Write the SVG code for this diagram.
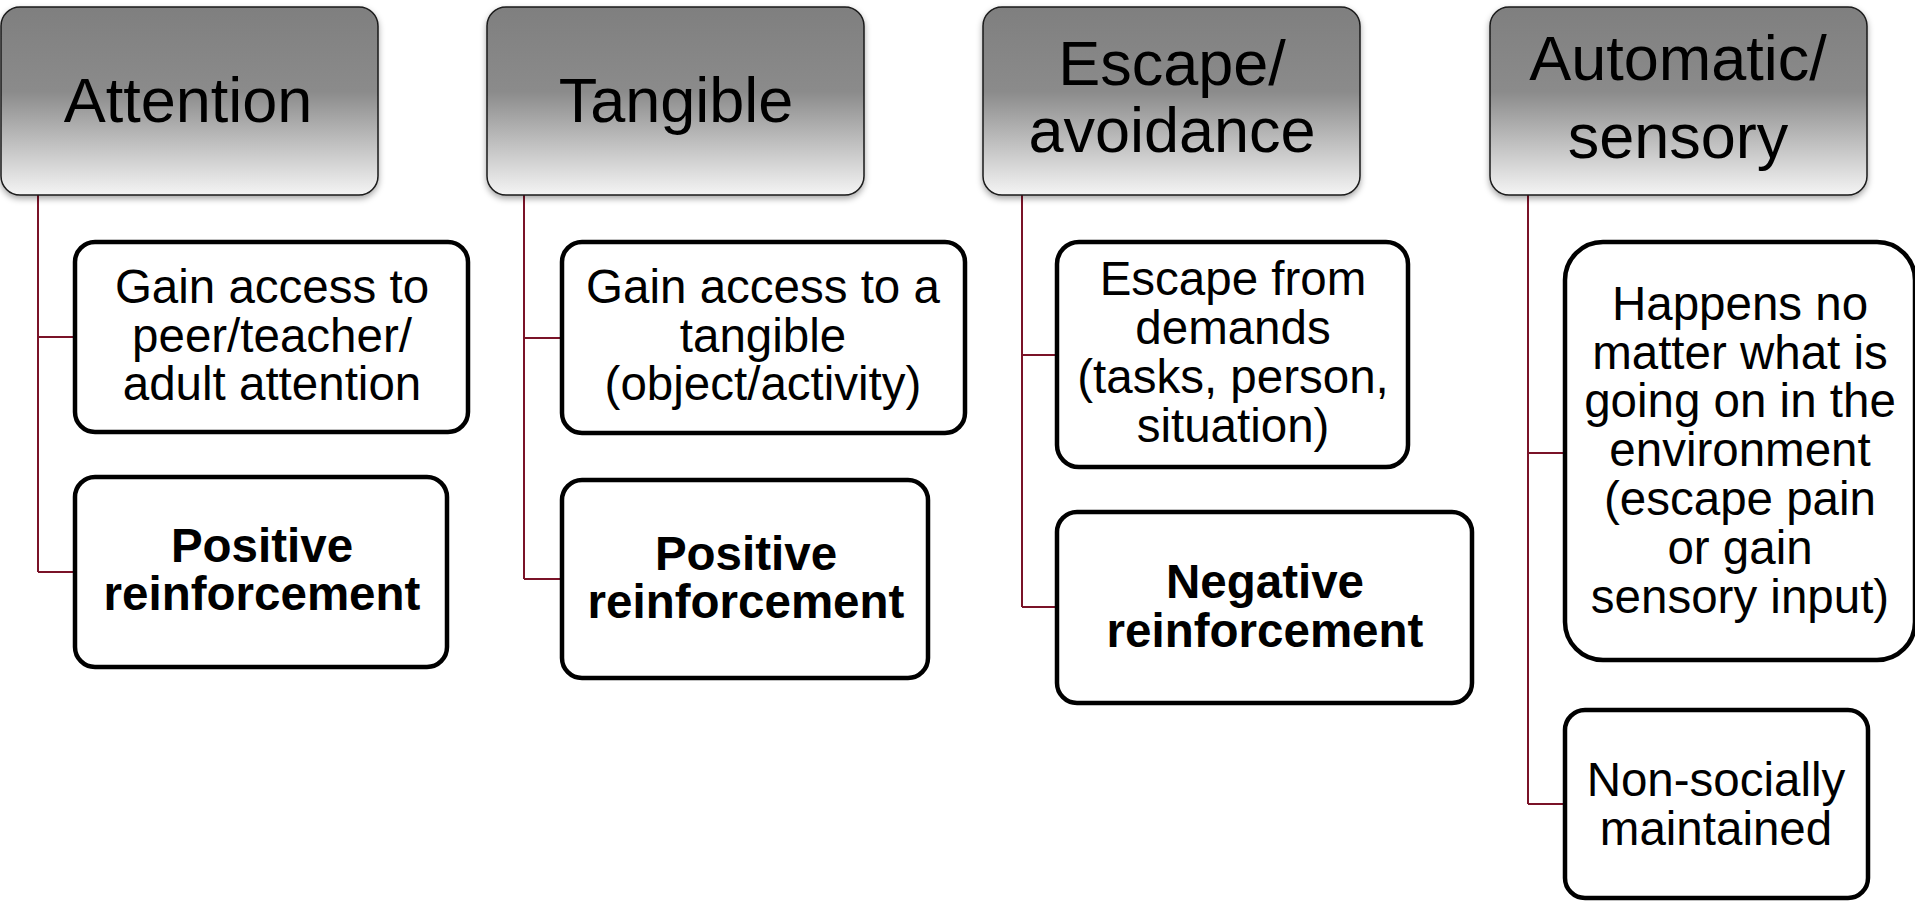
<svg xmlns="http://www.w3.org/2000/svg" width="1915" height="902" viewBox="0 0 1915 902">
<defs>
<linearGradient id="hg" x1="0" y1="0" x2="0" y2="1">
<stop offset="0" stop-color="#7f7f7f"/>
<stop offset="0.45" stop-color="#8b8b8b"/>
<stop offset="1" stop-color="#f4f4f4"/>
</linearGradient>
<filter id="sh" x="-10%" y="-10%" width="120%" height="130%">
<feDropShadow dx="0" dy="3" stdDeviation="3" flood-color="#000" flood-opacity="0.35"/>
</filter>
</defs>
<style>
.hdr{fill:url(#hg);stroke:#1a1a1a;stroke-width:1.5;filter:url(#sh)}
.box{fill:#fff;stroke:#000;stroke-width:4.5}
.ht{font-family:"Liberation Sans",Arial,sans-serif;font-size:63px;fill:#000;text-anchor:middle}
.bt{font-family:"Liberation Sans",Arial,sans-serif;font-size:47.5px;fill:#000;text-anchor:middle}
.bb{font-family:"Liberation Sans",Arial,sans-serif;font-size:47.5px;font-weight:bold;fill:#000;text-anchor:middle}
.con{fill:none;stroke:#7a1328;stroke-width:2}
</style>
<rect width="1915" height="902" fill="#fff"/>
<g id="connectors">
<path class="con" d="M38 195V572M38 337H75M38 572H75"/>
<path class="con" d="M524 195V579M524 338H562M524 579H562"/>
<path class="con" d="M1022 195V607M1022 355H1057M1022 607H1057"/>
<path class="con" d="M1528 195V804M1528 453H1565M1528 804H1565"/>
</g>
<g id="h-attention">
<rect class="hdr" x="1" y="7" width="377" height="188" rx="19"/>
<text class="ht" x="188" y="122">Attention</text>
</g>
<g id="h-tangible">
<rect class="hdr" x="487" y="7" width="377" height="188" rx="19"/>
<text class="ht" x="676" y="122">Tangible</text>
</g>
<g id="h-escape">
<rect class="hdr" x="983" y="7" width="377" height="188" rx="19"/>
<text class="ht" x="1172" y="85">Escape/</text>
<text class="ht" x="1172" y="152">avoidance</text>
</g>
<g id="h-automatic">
<rect class="hdr" x="1490" y="7" width="377" height="188" rx="19"/>
<text class="ht" x="1678" y="80">Automatic/</text>
<text class="ht" x="1678" y="158">sensory</text>
</g>
<g id="n-attention-1">
<rect class="box" x="75" y="242" width="393" height="190" rx="20"/>
<text class="bt" x="272" y="303">Gain access to</text>
<text class="bt" x="272" y="351.5">peer/teacher/</text>
<text class="bt" x="272" y="400">adult attention</text>
</g>
<g id="n-attention-2">
<rect class="box" x="75" y="477" width="372" height="190" rx="20"/>
<text class="bb" x="262" y="562">Positive</text>
<text class="bb" x="262" y="610">reinforcement</text>
</g>
<g id="n-tangible-1">
<rect class="box" x="562" y="242" width="403" height="191" rx="20"/>
<text class="bt" x="763" y="303">Gain access to a</text>
<text class="bt" x="763" y="351.5">tangible</text>
<text class="bt" x="763" y="400">(object/activity)</text>
</g>
<g id="n-tangible-2">
<rect class="box" x="562" y="480" width="366" height="198" rx="20"/>
<text class="bb" x="746" y="570">Positive</text>
<text class="bb" x="746" y="618">reinforcement</text>
</g>
<g id="n-escape-1">
<rect class="box" x="1057" y="242" width="351" height="225" rx="22"/>
<text class="bt" x="1233" y="295">Escape from</text>
<text class="bt" x="1233" y="344">demands</text>
<text class="bt" x="1233" y="393">(tasks, person,</text>
<text class="bt" x="1233" y="442">situation)</text>
</g>
<g id="n-escape-2">
<rect class="box" x="1057" y="512" width="415" height="191" rx="20"/>
<text class="bb" x="1265" y="598">Negative</text>
<text class="bb" x="1265" y="647">reinforcement</text>
</g>
<g id="n-auto-1">
<rect class="box" x="1565" y="242" width="350" height="418" rx="38"/>
<text class="bt" x="1740" y="320">Happens no</text>
<text class="bt" x="1740" y="368.5">matter what is</text>
<text class="bt" x="1740" y="417">going on in the</text>
<text class="bt" x="1740" y="466">environment</text>
<text class="bt" x="1740" y="515">(escape pain</text>
<text class="bt" x="1740" y="564">or gain</text>
<text class="bt" x="1740" y="613">sensory input)</text>
</g>
<g id="n-auto-2">
<rect class="box" x="1565" y="710" width="303" height="188" rx="20"/>
<text class="bt" x="1716" y="796">Non-socially</text>
<text class="bt" x="1716" y="845">maintained</text>
</g>
</svg>
